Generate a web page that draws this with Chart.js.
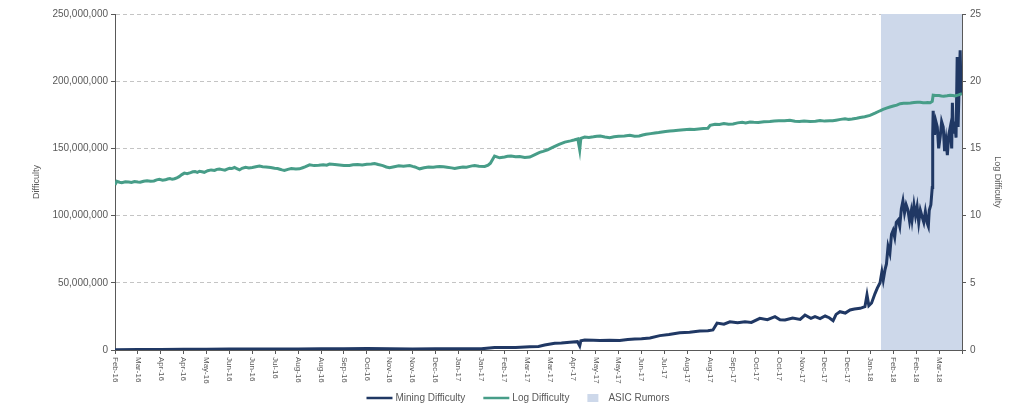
<!DOCTYPE html>
<html>
<head>
<meta charset="utf-8">
<script src="https://cdn.jsdelivr.net/npm/chart.js@4.4.1/dist/chart.umd.min.js"></script>
<style>
  html, body { margin: 0; padding: 0; background: #ffffff; }
  #wrap { width: 1024px; height: 413px; position: relative; }
</style>
</head>
<body>
<div id="wrap"><canvas id="c"></canvas></div>
<script>
// ---- Tick labels (one per tick period on the x axis) ----
const tickLabels = ["Feb-16","Mar-16","Apr-16","Apr-16","May-16","Jun-16","Jun-16","Jul-16","Aug-16","Aug-16",
  "Sep-16","Oct-16","Nov-16","Nov-16","Dec-16","Jan-17","Jan-17","Feb-17","Mar-17","Mar-17",
  "Apr-17","May-17","May-17","Jun-17","Jul-17","Aug-17","Aug-17","Sep-17","Oct-17","Oct-17",
  "Nov-17","Dec-17","Dec-17","Jan-18","Feb-18","Feb-18","Mar-18"];

// ---- Log Difficulty (x in tick periods, value) ----
const logX = [0,0.08,0.2,0.3,0.45,0.6,0.72,0.85,1.0,1.1,1.25,1.4,1.55,1.7,1.82,1.94,2.08,2.2,2.3,2.4,2.5,2.6,2.7,2.8,2.92,3.03,3.15,3.3,3.4,3.5,3.6,3.69,3.8,3.9,4.05,4.2,4.35,4.45,4.56,4.68,4.8,4.9,5.0,5.1,5.22,5.32,5.44,5.55,5.7,5.85,6.0,6.15,6.31,6.45,6.6,6.8,6.97,7.1,7.2,7.3,7.4,7.55,7.7,7.9,8.06,8.2,8.3,8.4,8.5,8.7,8.9,9.1,9.25,9.37,9.6,9.8,10.0,10.24,10.4,10.6,10.8,11.0,11.2,11.34,11.5,11.7,11.85,11.99,12.2,12.4,12.6,12.87,13.0,13.1,13.2,13.31,13.5,13.7,13.9,14.05,14.18,14.35,14.5,14.7,14.84,15.0,15.2,15.35,15.5,15.6,15.71,15.9,16.15,16.3,16.4,16.5,16.58,16.8,17.02,17.15,17.3,17.5,17.68,17.9,18.12,18.3,18.55,18.7,18.9,19.05,19.21,19.4,19.65,19.9,20.05,20.22,20.3,20.35,20.52,20.7,20.9,21.05,21.2,21.4,21.61,21.8,22.0,22.25,22.49,22.7,22.9,23.05,23.2,23.4,23.58,23.75,23.9,24.05,24.24,24.4,24.6,24.85,25.11,25.3,25.5,25.7,25.9,26.0,26.21,26.4,26.6,26.8,27.0,27.2,27.4,27.55,27.74,27.9,28.1,28.35,28.61,28.8,29.0,29.25,29.48,29.7,29.9,30.1,30.36,30.6,30.8,31.0,31.23,31.35,31.5,31.7,31.89,32.05,32.2,32.4,32.55,32.75,32.98,33.2,33.42,33.55,33.7,33.85,34.0,34.15,34.3,34.45,34.6,34.75,34.9,35.05,35.17,35.3,35.4,35.5,35.61,35.7,35.74,35.85,36.0,36.1,36.2,36.35,36.48,36.6,36.7,36.85,37.0];
const logVal = [12.3,12.55,12.48,12.45,12.52,12.5,12.47,12.54,12.5,12.48,12.56,12.6,12.55,12.58,12.66,12.7,12.64,12.66,12.72,12.76,12.7,12.74,12.8,12.9,13.05,13.16,13.12,13.2,13.26,13.28,13.22,13.3,13.26,13.22,13.34,13.4,13.36,13.44,13.46,13.42,13.38,13.46,13.52,13.5,13.58,13.5,13.4,13.52,13.6,13.55,13.58,13.64,13.68,13.64,13.62,13.58,13.53,13.5,13.45,13.4,13.36,13.44,13.5,13.46,13.48,13.56,13.62,13.7,13.78,13.72,13.74,13.78,13.75,13.83,13.8,13.76,13.72,13.73,13.78,13.8,13.77,13.82,13.84,13.88,13.8,13.72,13.62,13.56,13.64,13.7,13.68,13.73,13.66,13.62,13.55,13.48,13.56,13.62,13.6,13.64,13.66,13.63,13.6,13.55,13.5,13.56,13.62,13.6,13.66,13.7,13.73,13.68,13.66,13.75,13.9,14.2,14.43,14.3,14.36,14.42,14.44,14.38,14.4,14.33,14.36,14.5,14.7,14.78,14.9,15.02,15.15,15.3,15.47,15.56,15.62,15.7,14.9,15.75,15.85,15.82,15.86,15.9,15.92,15.85,15.8,15.86,15.9,15.93,15.97,15.9,15.92,16.0,16.05,16.1,16.15,16.18,16.22,16.26,16.3,16.32,16.35,16.38,16.42,16.4,16.45,16.48,16.5,16.72,16.8,16.78,16.85,16.8,16.82,16.9,16.95,16.9,16.97,16.94,16.92,16.98,17.0,17.04,17.06,17.05,17.1,17.02,17.0,17.04,17.0,17.02,17.08,17.03,17.05,17.06,17.1,17.16,17.2,17.16,17.18,17.24,17.3,17.36,17.46,17.62,17.8,17.9,18.0,18.08,18.15,18.22,18.33,18.36,18.36,18.38,18.42,18.44,18.43,18.4,18.4,18.42,18.4,18.5,18.96,18.93,18.94,18.9,18.88,18.92,18.96,18.93,18.9,18.98,19.08];

// ---- Mining Difficulty (x in tick periods, value) ----
const diffX = [0,1,2,3,4,5,6,7,8,9,10,11,12,13,14,15,16,16.58,17.5,18.12,18.5,18.77,19.21,19.5,19.87,20.2,20.3,20.35,20.52,20.9,21.18,21.6,22.05,22.4,22.71,23.0,23.37,23.8,24.2,24.67,25.1,25.55,25.9,26.12,26.3,26.6,26.86,27.2,27.52,27.8,28.17,28.5,28.83,29.05,29.27,29.6,29.93,30.14,30.4,30.58,30.8,31.02,31.2,31.37,31.5,31.67,31.9,32.11,32.3,32.55,32.76,32.85,32.93,33.05,33.2,33.3,33.42,33.5,33.56,33.64,33.7,33.77,33.85,33.92,33.99,34.06,34.13,34.21,34.28,34.35,34.42,34.49,34.56,34.64,34.71,34.78,34.82,34.9,34.97,35.04,35.11,35.18,35.26,35.33,35.4,35.48,35.53,35.57,35.64,35.7,35.72,35.74,35.8,35.86,35.92,35.98,36.05,36.11,36.18,36.24,36.3,36.36,36.42,36.49,36.55,36.58,36.62,36.68,36.74,36.79,36.83,36.88,36.92,36.96,37];
const diffVal = [250000,280000,330000,500000,600000,750000,800000,750000,800000,1000000,1000000,1050000,900000,800000,850000,850000,900000,1800000,1800000,2500000,2600000,3700000,5000000,5200000,5700000,6200000,3000000,6800000,7400000,7200000,7000000,7300000,7000000,7800000,8200000,8400000,9000000,10700000,11500000,12900000,13200000,14100000,14300000,14900000,20000000,19200000,21000000,20200000,21000000,20500000,23600000,22600000,24800000,22500000,22300000,23800000,22800000,26000000,23500000,24800000,23400000,25300000,24000000,21800000,26500000,28500000,27500000,29800000,30500000,31000000,32200000,41000000,33000000,35000000,42000000,46000000,50000000,58000000,52000000,60000000,64000000,77000000,72000000,86000000,89000000,84000000,95000000,96700000,92000000,105000000,111000000,102000000,108000000,104000000,96000000,103000000,97000000,108000000,100000000,106600000,95000000,104000000,99000000,95000000,103000000,94400000,92000000,104000000,108000000,121000000,160000000,178000000,160000000,170000000,166000000,150000000,159000000,170000000,166000000,148000000,156000000,145000000,160000000,166000000,150000000,184000000,161000000,170000000,158000000,218000000,166000000,200000000,223000000,190000000,196000000];

// ---- ASIC Rumors period (x range in tick periods, on log axis top) ----
const asicX = [33.46, 37];
const asicVal = [25, 25];

const seriesNames = ["Mining Difficulty", "Log Difficulty", "ASIC Rumors"];

const pts = (xs, ys) => xs.map((x, i) => ({ x: x, y: ys[i] }));

const TXT = '#595959';
const FONT = "'Liberation Sans', Arial, sans-serif";

const xLabelPlugin = {
  id: 'xLabels',
  afterDraw(chart) {
    const xs = chart.scales.x;
    const ctx = chart.ctx;
    ctx.save();
    ctx.font = "8px " + FONT;
    ctx.fillStyle = TXT;
    ctx.textAlign = 'left';
    ctx.textBaseline = 'middle';
    tickLabels.forEach((lab, i) => {
      const px = xs.getPixelForValue(i);
      ctx.save();
      ctx.translate(px, xs.top + 7);
      ctx.rotate(Math.PI / 2);
      ctx.fillText(lab, 0, 0);
      ctx.restore();
    });
    ctx.restore();
  }
};

const legendPlugin = {
  id: 'customLegend',
  afterDraw(chart) {
    const ctx = chart.ctx;
    ctx.save();
    ctx.font = "10px " + FONT;
    ctx.textBaseline = 'middle';
    ctx.textAlign = 'left';
    const ds = chart.data.datasets;
    const sampleW = [26, 26, 11];
    const gapSample = [3, 3, 10];
    const gapItem = 18;
    const widths = ds.map((d, i) => sampleW[i] + gapSample[i] + ctx.measureText(d.label).width);
    const total = widths.reduce((a, b) => a + b, 0) + gapItem * (ds.length - 1);
    let x = 518 - total / 2;
    const y = 398;
    ds.forEach((d, i) => {
      if (d.type === 'line' && !d.fill) {
        ctx.strokeStyle = d.borderColor;
        ctx.lineWidth = 2.5;
        ctx.beginPath();
        ctx.moveTo(x, y);
        ctx.lineTo(x + sampleW[i], y);
        ctx.stroke();
      } else {
        ctx.fillStyle = d.backgroundColor;
        ctx.fillRect(x, y - 4, sampleW[i], 8);
      }
      ctx.fillStyle = TXT;
      ctx.fillText(d.label, x + sampleW[i] + gapSample[i], y);
      x += widths[i] + gapItem;
    });
    ctx.restore();
  }
};

new Chart(document.getElementById('c'), {
  type: 'line',
  data: {
    datasets: [
      {
        type: 'line',
        label: seriesNames[0],
        data: pts(diffX, diffVal),
        yAxisID: 'y',
        borderColor: '#203864',
        backgroundColor: '#203864',
        borderWidth: 3,
        pointRadius: 0,
        tension: 0,
        fill: false,
        order: 2
      },
      {
        type: 'line',
        label: seriesNames[1],
        data: pts(logX, logVal),
        yAxisID: 'y2',
        borderColor: '#479d88',
        backgroundColor: '#479d88',
        borderWidth: 3,
        pointRadius: 0,
        tension: 0,
        fill: false,
        order: 1
      },
      {
        type: 'line',
        label: seriesNames[2],
        data: pts(asicX, asicVal),
        yAxisID: 'y2',
        borderColor: 'rgba(0,0,0,0)',
        backgroundColor: '#cdd8ea',
        borderWidth: 0,
        pointRadius: 0,
        fill: 'origin',
        order: 3
      }
    ]
  },
  options: {
    responsive: true,
    maintainAspectRatio: false,
    animation: false,
    layout: { padding: { top: 14, bottom: 23, left: 0, right: 0 } },
    plugins: {
      legend: { display: false },
      tooltip: { enabled: false }
    },
    scales: {
      x: {
        type: 'linear',
        min: 0,
        max: 37,
        afterFit: s => { s.height = 40; },
        ticks: { display: false, stepSize: 1, maxTicksLimit: 100 },
        grid: { drawOnChartArea: false, tickLength: 4, tickColor: '#595959' },
        border: { display: true, color: '#595959', width: 1 }
      },
      y: {
        type: 'linear',
        position: 'left',
        min: 0,
        max: 250000000,
        afterFit: s => { s.width = 115; },
        ticks: {
          stepSize: 50000000,
          color: TXT,
          padding: 3,
          font: { family: FONT, size: 10 },
          callback: v => v.toLocaleString('en-US')
        },
        grid: { color: '#c4c4c4', tickLength: 4, tickColor: '#595959', tickBorderDash: [] },
        border: { display: true, color: '#595959', width: 1, dash: [4, 3] },
        title: {
          display: true,
          text: 'Difficulty',
          color: TXT,
          font: { family: FONT, size: 9 },
          padding: { top: 31.5, bottom: 0 }
        }
      },
      y2: {
        type: 'linear',
        position: 'right',
        min: 0,
        max: 25,
        afterFit: s => { s.width = 62; },
        ticks: {
          stepSize: 5,
          color: TXT,
          padding: 4,
          font: { family: FONT, size: 10 }
        },
        grid: { drawOnChartArea: false, tickLength: 4, tickColor: '#595959' },
        border: { display: true, color: '#595959', width: 1 },
        title: {
          display: true,
          text: 'Log Difficulty',
          color: TXT,
          font: { family: FONT, size: 9 },
          padding: { top: 21.5, bottom: 0 }
        }
      }
    }
  },
  plugins: [xLabelPlugin, legendPlugin]
});
</script>
</body>
</html>
